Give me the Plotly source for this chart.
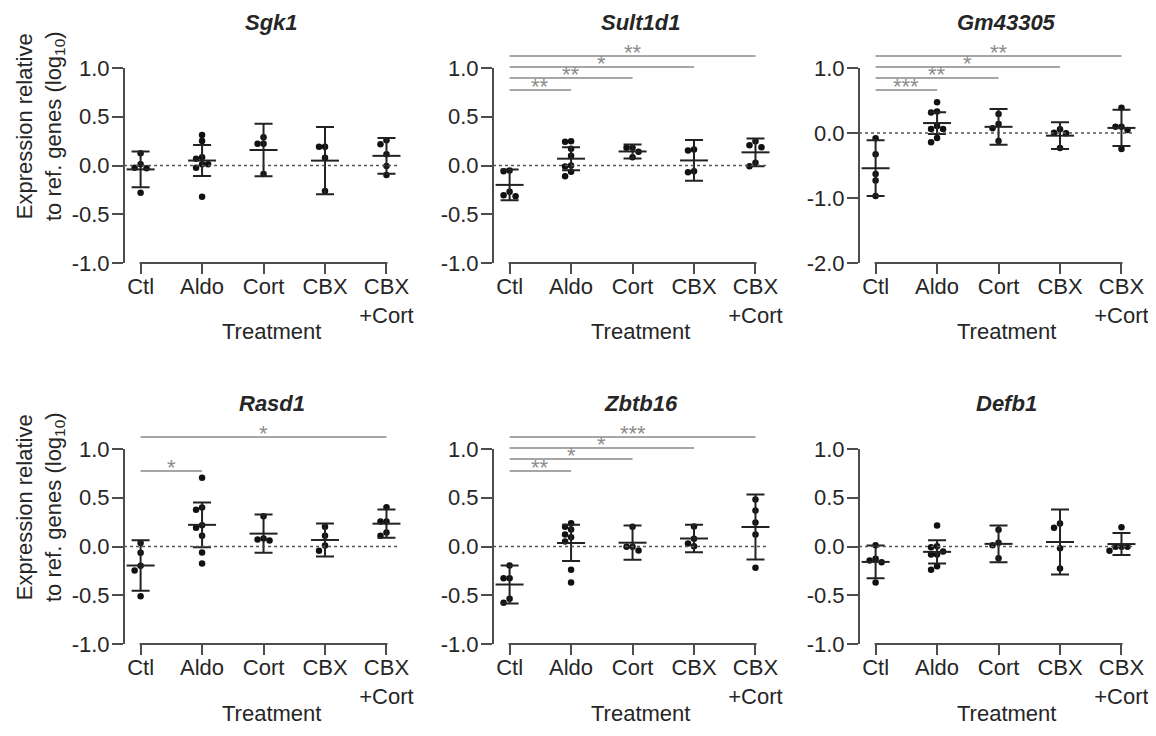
import numpy as np
import plotly.graph_objects as go

# ---------------- data ----------------
groups = ["Ctl", "Aldo", "Cort", "CBX", "CBX+Cort"]
tick_labels = ["Ctl", "Aldo", "Cort", "CBX", "CBX<br>+Cort"]
genes = ["Sgk1", "Sult1d1", "Gm43305", "Rasd1", "Zbtb16", "Defb1"]

sgk1_points = [
    [0.125, 0.012, -0.022, -0.029, -0.279],
    [0.313, 0.251, 0.084, 0.070, 0.012, 0.012, -0.022, -0.320],
    [0.289, 0.224, 0.224, -0.087],
    [0.193, 0.193, 0.080, -0.262],
    [0.258, 0.217, 0.115, -0.005, -0.097],
]
sgk1_mean = [-0.040, 0.051, 0.159, 0.050, 0.099]
sgk1_sd = [0.183, 0.159, 0.270, 0.346, 0.183]
sgk1_sig = []

sult1d1_points = [
    [-0.051, -0.058, -0.270, -0.304, -0.315],
    [0.249, 0.243, 0.171, 0.099, 0.000, -0.010, -0.065, -0.110],
    [0.182, 0.182, 0.140, 0.085],
    [0.164, 0.154, -0.058, -0.068],
    [0.249, 0.208, 0.188, 0.027, -0.007],
]
sult1d1_mean = [-0.199, 0.070, 0.144, 0.052, 0.135]
sult1d1_sd = [0.158, 0.118, 0.072, 0.209, 0.142]
sult1d1_sig = [("Aldo", "**"), ("Cort", "**"), ("CBX", "*"), ("CBX+Cort", "**")]

gm43305_points = [
    [-0.082, -0.325, -0.629, -0.731, -0.970],
    [0.475, 0.329, 0.314, 0.108, 0.062, 0.062, -0.077, -0.144],
    [0.294, 0.139, 0.072, -0.124],
    [0.057, 0.005, -0.005, -0.232],
    [0.387, 0.098, 0.098, 0.046, -0.247],
]
gm43305_mean = [-0.542, 0.153, 0.095, -0.041, 0.078]
gm43305_sd = [0.429, 0.168, 0.276, 0.206, 0.279]
gm43305_sig = [("Aldo", "***"), ("Cort", "**"), ("CBX", "*"), ("CBX+Cort", "**")]

rasd1_points = [
    [0.036, -0.065, -0.198, -0.246, -0.509],
    [0.705, 0.400, 0.376, 0.218, 0.192, 0.110, -0.062, -0.174],
    [0.311, 0.082, 0.072, 0.062],
    [0.202, 0.110, 0.010, -0.044],
    [0.403, 0.256, 0.256, 0.144, 0.110],
]
rasd1_mean = [-0.195, 0.222, 0.132, 0.067, 0.234]
rasd1_sd = [0.260, 0.229, 0.197, 0.170, 0.145]
rasd1_sig = [("Aldo", "*"), ("CBX+Cort", "*")]

zbtb16_points = [
    [-0.195, -0.325, -0.325, -0.537, -0.578],
    [0.239, 0.202, 0.174, 0.123, 0.095, 0.051, -0.239, -0.369],
    [0.202, -0.003, -0.003, -0.041],
    [0.205, 0.079, 0.031, 0.003],
    [0.482, 0.369, 0.246, 0.123, -0.218],
]
zbtb16_mean = [-0.390, 0.036, 0.039, 0.082, 0.200]
zbtb16_sd = [0.195, 0.186, 0.176, 0.140, 0.333]
zbtb16_sig = [("Aldo", "**"), ("Cort", "*"), ("CBX", "*"), ("CBX+Cort", "***")]

defb1_points = [
    [0.013, -0.126, -0.144, -0.161, -0.369],
    [0.215, 0.003, -0.007, -0.051, -0.082, -0.082, -0.202, -0.239],
    [0.171, 0.038, 0.013, -0.120],
    [0.236, 0.192, -0.017, -0.226],
    [0.198, -0.003, -0.003, -0.003, -0.044],
]
defb1_mean = [-0.158, -0.055, 0.027, 0.046, 0.025]
defb1_sd = [0.168, 0.120, 0.188, 0.333, 0.113]
defb1_sig = []

y_floor = [-1, -1, -2, -1, -1, -1]

panels = [
    (sgk1_points, sgk1_mean, sgk1_sd, sgk1_sig),
    (sult1d1_points, sult1d1_mean, sult1d1_sd, sult1d1_sig),
    (gm43305_points, gm43305_mean, gm43305_sd, gm43305_sig),
    (rasd1_points, rasd1_mean, rasd1_sd, rasd1_sig),
    (zbtb16_points, zbtb16_mean, zbtb16_sd, zbtb16_sig),
    (defb1_points, defb1_mean, defb1_sd, defb1_sig),
]

# ---------------- layout constants ----------------
# figure is 1140x720; the page body margin (8px) makes the page 1156x736
W, H = 1140, 720
col_left_px = [116, 485, 851]
row_top_px = [37, 418]
plot_w_px = 276
plot_h_px = 218
head_px = 23          # space above the 1.0 tick for the significance bars
x_range = [-0.27, 4.22]
FONT = "Liberation Sans, Arial, Helvetica, sans-serif"
TXT = "#262626"
AXC = "#4d4d4d"
SIGC = "#a6a6a6"
STARC = "#8c8c8c"
slot_px = [45, 33, 22, 11]   # px below the panel top (Aldo, Cort, CBX, CBX+Cort)

px_per_x = plot_w_px / (x_range[1] - x_range[0])


def swarm(vals, pxx, pxy, step=6.0, mind=6.0):
    vals = np.asarray(vals, dtype=float)
    order = np.argsort(-vals, kind="stable")
    placed = []
    offs = np.zeros(len(vals))
    cands = [0, -1, 1, -2, 2]
    for i in order:
        yp = vals[i] * pxy
        best, bestd = 0, -1
        for c in cands:
            xp = c * step
            d = min([np.hypot(xp - a, yp - b) for a, b in placed] or [99])
            if d >= mind:
                best = c
                break
            if d > bestd:
                best, bestd = c, d
        placed.append((best * step, yp))
        offs[i] = best * step / pxx
    return offs


fig = go.Figure()
shapes = []
annotations = []
layout_axes = {}

for p, (pts, mean, sd, sig) in enumerate(panels):
    row, col = divmod(p, 3)
    n = "" if p == 0 else str(p + 1)
    xa, ya = "x" + n, "y" + n
    ymin = y_floor[p]
    px_per_y = (plot_h_px - head_px) / (1 - ymin)
    ytop = 1 + head_px / px_per_y
    left = col_left_px[col]
    top = row_top_px[row]
    xdom = [left / W, (left + plot_w_px) / W]
    ydom = [1 - (top + plot_h_px) / H, 1 - top / H]

    # points (swarm)
    xs, ys = [], []
    for k, vals in enumerate(pts):
        offs = swarm(vals, px_per_x, px_per_y)
        xs.extend(k + offs)
        ys.extend(vals)
    fig.add_trace(go.Scatter(
        x=xs, y=ys, mode="markers", xaxis=xa, yaxis=ya, showlegend=False,
        marker=dict(size=6.5, color="#111111"), cliponaxis=False, hoverinfo="y"))
    # mean +- SD
    fig.add_trace(go.Scatter(
        x=list(range(len(groups))), y=mean, mode="markers", xaxis=xa, yaxis=ya,
        showlegend=False, cliponaxis=False,
        marker=dict(symbol="line-ew", size=20, color="#222222",
                    line=dict(width=2, color="#222222")),
        error_y=dict(type="data", array=sd, visible=True, width=9,
                     thickness=2, color="#222222")))

    if ymin == -2:
        tv = [-2, -1, 0, 1]
    else:
        tv = [-1, -0.5, 0, 0.5, 1]
    tt = [("%.1f" % v) for v in tv]

    layout_axes["xaxis" + n] = dict(
        domain=xdom, range=x_range, anchor=ya, showline=False, showgrid=False,
        zeroline=False, automargin=False, ticklabeloverflow="allow",
        tickvals=list(range(len(groups))), ticktext=tick_labels,
        ticks="outside", ticklen=10, tickwidth=2, tickcolor=AXC,
        ticklabelstandoff=-6,
        tickfont=dict(family=FONT, size=22, color=TXT), fixedrange=True)
    layout_axes["yaxis" + n] = dict(
        domain=ydom, range=[ymin, ytop], anchor=xa, showline=False,
        showgrid=False, zeroline=False, automargin=False,
        ticklabeloverflow="allow", tickvals=tv, ticktext=tt,
        ticks="outside", ticklen=11, tickwidth=2, tickcolor=AXC,
        ticklabelstandoff=-2,
        tickfont=dict(family=FONT, size=22, color=TXT), fixedrange=True)

    # axis lines (Prism-style offset axes)
    y_bottom_paper = ydom[0]
    y_one_paper = 1 - (top + head_px) / H
    shapes.append(dict(type="line", xref="paper", yref="paper",
                       x0=xdom[0], x1=xdom[0], y0=y_bottom_paper, y1=y_one_paper,
                       line=dict(color=AXC, width=2)))
    x_first = (left + (0 - x_range[0]) * px_per_x) / W
    x_last = (left + (len(groups) - 1 - x_range[0]) * px_per_x) / W
    shapes.append(dict(type="line", xref="paper", yref="paper",
                       x0=x_first - 1 / W, x1=x_last + 1 / W,
                       y0=y_bottom_paper, y1=y_bottom_paper,
                       line=dict(color=AXC, width=2)))
    # dotted zero line
    shapes.append(dict(type="line", xref=xa, yref=ya, x0=x_range[0], x1=x_range[1],
                       y0=0, y1=0, line=dict(color="#555555", width=1.5, dash="dot")))

    # significance bars
    for target, stars in sig:
        k = groups.index(target)
        yval = ytop - slot_px[k - 1] / px_per_y
        shapes.append(dict(type="line", xref=xa, yref=ya, x0=0, x1=k, y0=yval, y1=yval,
                           line=dict(color=SIGC, width=2)))
        annotations.append(dict(xref=xa, yref=ya, x=k / 2, y=yval, text=stars,
                                showarrow=False, xanchor="center", yanchor="bottom",
                                yshift=-11,
                                font=dict(family=FONT, size=22, color=STARC)))

    # panel title
    annotations.append(dict(xref=xa, yref="paper", x=2, xshift=8,
                            y=1 - (top - 23) / H, text="<b><i>%s</i></b>" % genes[p],
                            showarrow=False, xanchor="center", yanchor="middle",
                            font=dict(family=FONT, size=22, color=TXT)))
    # x-axis title
    annotations.append(dict(xref=xa, yref="paper", x=2, xshift=8,
                            y=1 - (top + 287) / H, text="Treatment",
                            showarrow=False, xanchor="center", yanchor="middle",
                            font=dict(family=FONT, size=22, color=TXT)))
    # y-axis title (left column only)
    if col == 0:
        annotations.append(dict(xref="paper", yref="paper", x=32 / W,
                                y=1 - (top + 81) / H,
                                text="Expression relative<br>to ref. genes (log<sub>10</sub>)",
                                textangle=-90, showarrow=False,
                                xanchor="center", yanchor="middle",
                                font=dict(family=FONT, size=22, color=TXT)))

fig.update_layout(
    width=W, height=H, autosize=False,
    margin=dict(l=0, r=0, t=0, b=0, autoexpand=False),
    paper_bgcolor="white", plot_bgcolor="white",
    shapes=shapes, annotations=annotations, showlegend=False,
    **layout_axes)

fig.write_html("out.html", config={"displayModeBar": False})
